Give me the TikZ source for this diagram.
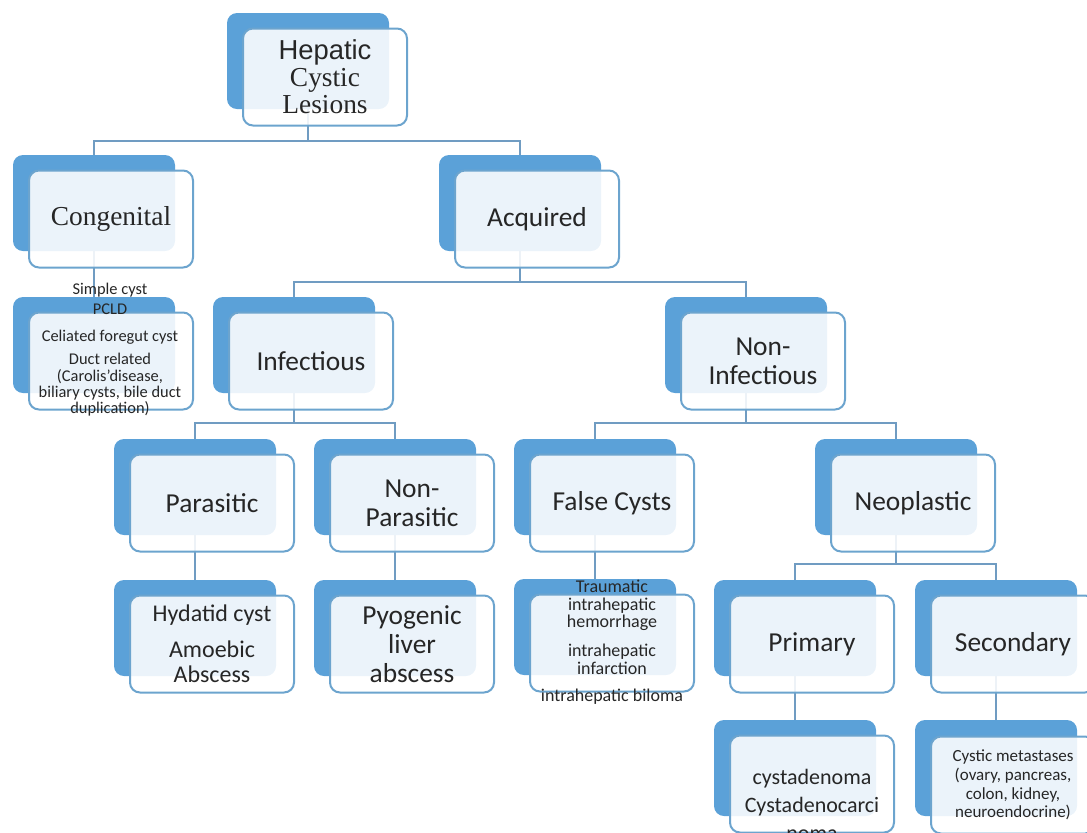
\documentclass[tikz,border=0pt]{standalone}
\usepackage{fontspec}
\setmainfont{Carlito}
\newfontfamily\serifface{Liberation Serif}
\newfontfamily\arialface{Liberation Sans}
\usetikzlibrary{backgrounds}
\definecolor{backblue}{RGB}{91,161,216}
\definecolor{edgeblue}{RGB}{108,164,206}
\definecolor{linkblue}{RGB}{112,156,194}
\definecolor{textgray}{RGB}{38,38,38}

\begin{document}
\begin{tikzpicture}[x=0.5pt, y=-0.5pt,
    backbox/.style={fill=backblue, rounded corners=5pt, minimum width=81pt, minimum height=48pt, inner sep=0pt},
    frontbox/.style={draw=edgeblue, line width=1pt, fill=white, fill opacity=0.88, text opacity=1, text=textgray, rounded corners=5pt, minimum width=82pt, minimum height=48.5pt, inner sep=1pt, align=center, font=\fontsize{13.7}{14.5}\selectfont},
    listtext/.style={text=textgray, align=center, inner sep=0pt},
    link/.style={draw=linkblue, line width=1pt}]
    \useasboundingbox (0,0) rectangle (1087,832);

    % back boxes
    \node[backbox] (rootB) at (308,61) {};
    \node[backbox] (congB) at (94,203) {};
    \node[backbox] (acqB) at (520,203) {};
    \node[backbox] (conglistB) at (94,345) {};
    \node[backbox] (infB) at (294,345) {};
    \node[backbox] (noninfB) at (746,345) {};
    \node[backbox] (paraB) at (195,487) {};
    \node[backbox] (nonparaB) at (395,487) {};
    \node[backbox] (falseB) at (595,487) {};
    \node[backbox] (neoB) at (896,487) {};
    \node[backbox] (hydB) at (195,628) {};
    \node[backbox] (pyoB) at (395,628) {};
    \node[backbox] (traumaB) at (595,627) {};
    \node[backbox] (primB) at (795,628) {};
    \node[backbox] (secB) at (996,628) {};
    \node[backbox] (cystaB) at (795,768) {};
    \node[backbox] (metaB) at (996,768) {};

    % front boxes
    \node[frontbox, font=\fontsize{13.7}{13.5}\selectfont] (root) at (325,77) {{\arialface Hepatic}\\{\serifface Cystic}\\{\serifface Lesions}};
    \node[frontbox] (cong) at (111,219) {\serifface Congenital};
    \node[frontbox] (acq) at (537,219) {Acquired};
    \node[frontbox] (conglist) at (111,361) {};
    \node[frontbox] (inf) at (311,361) {Infectious};
    \node[frontbox] (noninf) at (763,361) {Non-\\Infectious};
    \node[frontbox] (para) at (212,503) {Parasitic};
    \node[frontbox] (nonpara) at (412,503) {Non-\\Parasitic};
    \node[frontbox] (false) at (612,503) {False Cysts};
    \node[frontbox] (neo) at (913,503) {Neoplastic};
    \node[frontbox, font=\fontsize{12}{12.5}\selectfont] (hyd) at (212,644) {Hydatid cyst\\[5.5pt]Amoebic\\Abscess};
    \node[frontbox] (pyo) at (412,644) {Pyogenic\\liver\\abscess};
    \node[frontbox] (trauma) at (612,643) {};
    \node[frontbox] (prim) at (812,644) {Primary};
    \node[frontbox] (sec) at (1013,644) {Secondary};
    \node[frontbox] (cysta) at (812,784) {};
    \node[frontbox, font=\fontsize{8.5}{9.35}\selectfont] (meta) at (1013,785) {Cystic metastases\\(ovary, pancreas,\\colon, kidney,\\neuroendocrine)};

    % texts that run over their boxes
    \node[listtext, font=\fontsize{8.2}{8.2}\selectfont] (conglisttxt) at (110,350) {Simple cyst\\[1.8pt]PCLD\\[5.3pt]Celiated foregut cyst\\[3.3pt]Duct related\\(Carolis'disease,\\biliary cysts, bile duct\\duplication)};
    \node[listtext, font=\fontsize{9}{8.75}\selectfont] (traumatxt) at (612,642) {Traumatic\\intrahepatic\\hemorrhage\\[5.75pt]intrahepatic\\infarction\\[4.75pt]intrahepatic biloma};
    \node[listtext, font=\fontsize{11}{14}\selectfont] (cystatxt) at (812,805) {cystadenoma\\Cystadenocarci\\noma};

    % bus points
    \coordinate (rootbus) at (308,141);
    \coordinate (acqbus) at (520,282);
    \coordinate (infbus) at (294,423);
    \coordinate (noninfbus) at (746,423);
    \coordinate (neobus) at (896,564);

    \begin{pgfonlayer}{background}
    \draw[link] (rootB) -- (rootbus) -| (congB);
    \draw[link] (rootbus) -| (acqB);
    \draw[link] (congB) -- (conglistB);
    \draw[link] (acqB) -- (acqbus) -| (infB);
    \draw[link] (acqbus) -| (noninfB);
    \draw[link] (infB) -- (infbus) -| (paraB);
    \draw[link] (infbus) -| (nonparaB);
    \draw[link] (noninfB) -- (noninfbus) -| (falseB);
    \draw[link] (noninfbus) -| (neoB);
    \draw[link] (paraB) -- (hydB);
    \draw[link] (nonparaB) -- (pyoB);
    \draw[link] (falseB) -- (traumaB);
    \draw[link] (neoB) -- (neobus) -| (primB);
    \draw[link] (neobus) -| (secB);
    \draw[link] (primB) -- (cystaB);
    \draw[link] (secB) -- (metaB);
    \end{pgfonlayer}
\end{tikzpicture}
\end{document}
